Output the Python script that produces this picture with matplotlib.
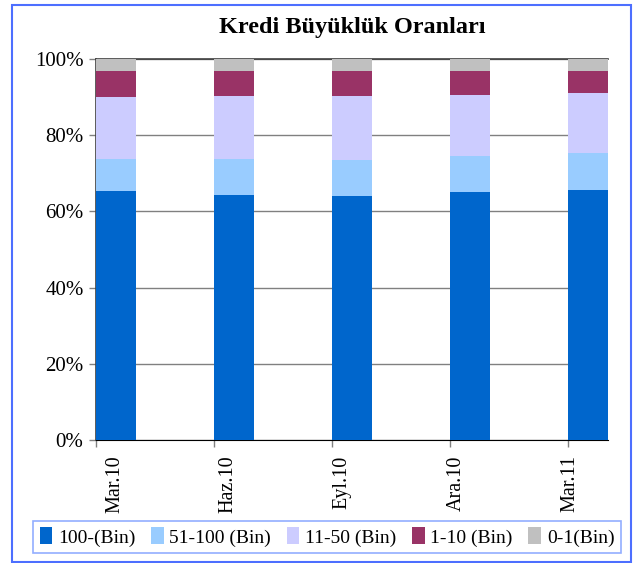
import matplotlib
matplotlib.use("Agg")
import matplotlib.pyplot as plt
from matplotlib.patches import Rectangle
import numpy as np

categories = ["Mar.10", "Haz.10", "Eyl.10", "Ara.10", "Mar.11"]
series_names = ["100-(Bin)", "51-100 (Bin)", "11-50 (Bin)", "1-10 (Bin)", "0-1(Bin)"]
s_100 = [65.35, 64.3, 64.0, 65.1, 65.6]
s_51_100 = [8.4, 9.45, 9.5, 9.4, 9.7]
s_11_50 = [16.25, 16.55, 16.8, 16.05, 15.8]
s_1_10 = [6.85, 6.55, 6.55, 6.3, 5.75]
s_0_1 = [3.15, 3.15, 3.15, 3.15, 3.15]
colors = ["#0066CC", "#99CCFF", "#CCCCFF", "#993366", "#C0C0C0"]
y_ticks = [0, 20, 40, 60, 80, 100]
y_tick_labels = ["0%", "20%", "40%", "60%", "80%", "100%"]

plt.rcParams['font.family'] = ['Liberation Serif', 'DejaVu Serif']

fig = plt.figure(figsize=(6.33, 5.63), dpi=100)
W, H = 633, 563
ax = fig.add_axes([96 / W, 1 - 440 / H, (608 - 96) / W, (440 - 59) / H])

series = [s_100, s_51_100, s_11_50, s_1_10, s_0_1]
x = np.arange(len(categories))
bottom = np.zeros(len(categories))
bar_w = 40 / 118
for vals, c, name in zip(series, colors, series_names):
    ax.bar(x, vals, width=bar_w, bottom=bottom, align='edge', color=c,
           label=name, zorder=3, linewidth=0)
    bottom += np.array(vals)

ax.set_xlim(0, 512 / 118)
ax.set_ylim(0, 100)
ax.set_yticks(y_ticks)
ax.set_yticklabels(y_tick_labels, fontsize=15)
ax.yaxis.grid(True, color="#808080", linewidth=1, zorder=0)
ax.set_axisbelow(True)

ax.set_xticks(x)
ax.set_xticklabels([])
label_offsets = [0.16, 0.12, 0.08, 0.05, 0.02]
ax.set_xticks(x + np.array(label_offsets), minor=True)
ax.set_xticklabels(categories, minor=True, rotation=90, fontsize=14.5, va='top', ha='center')
ax.tick_params(axis='x', which='minor', length=0, pad=11)
ax.tick_params(axis='x', which='major', length=5, color="#808080", width=1)
ax.tick_params(axis='y', length=5, color="#808080", width=1, pad=4)

ax.spines["right"].set_visible(False)
ax.spines["top"].set_color("#404040")
ax.spines["top"].set_linewidth(1.2)
ax.spines["left"].set_color("#404040")
ax.spines["left"].set_linewidth(1.2)
ax.spines["bottom"].set_color("black")

fig.text(352 / W, 1 - 27 / H, "Kredi Büyüklük Oranları", ha='center', va='center',
         fontsize=17.5, fontweight='bold')

# outer frame
fig.patches.append(Rectangle((12 / W, 1 - 562 / H), (631 - 12) / W, (562 - 5) / H,
                             transform=fig.transFigure, fill=False,
                             edgecolor="#4D6FFF", linewidth=1.5))

leg = fig.legend(loc='center', bbox_to_anchor=((35 + 619) / 2 / W, 1 - 537 / H),
                 ncol=5, fontsize=14, frameon=True, fancybox=False,
                 handlelength=0.65, handleheight=0.95, handletextpad=0.3,
                 columnspacing=0.8, borderpad=0.35)
leg.get_frame().set_edgecolor("#7799FF")
leg.get_frame().set_linewidth(1.2)

fig.savefig("out.png", dpi=100)
